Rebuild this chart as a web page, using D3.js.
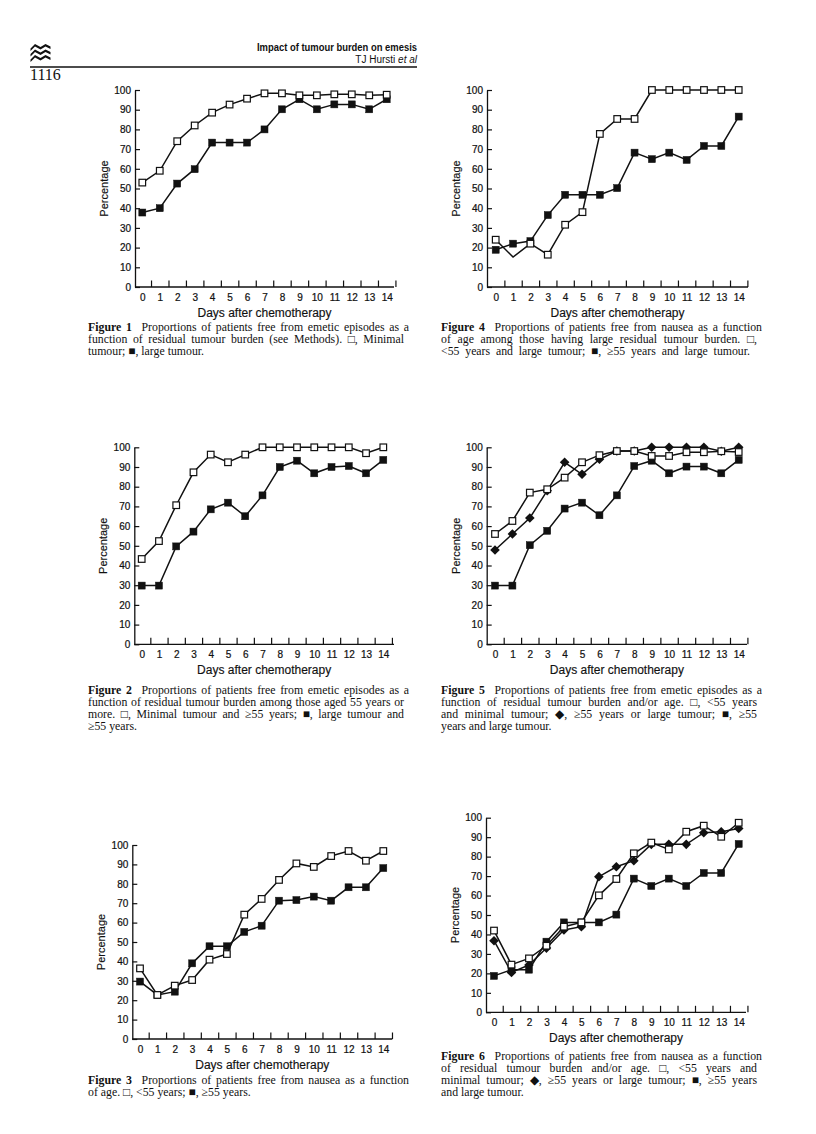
<!DOCTYPE html>
<html><head><meta charset="utf-8">
<script src="https://cdn.jsdelivr.net/npm/d3@7"></script>
<style>body{margin:0;background:#fff} svg{display:block}</style>
</head><body>
<svg id="page" width="816" height="1134"></svg>
<script>
// ---------------- DATA ----------------
const days = [0,1,2,3,4,5,6,7,8,9,10,11,12,13,14];
const yTickValues = [0,10,20,30,40,50,60,70,80,90,100];
const xAxisTitle = "Days after chemotherapy";
const yAxisTitle = "Percentage";

// Figure 1
const fig1Minimal = [53,59,74,82,88.5,92.6,95.6,98.3,98.3,97.3,97.3,97.8,97.8,97.3,97.6];
const fig1Large   = [37.8,40,52.5,59.8,73.3,73.3,73.3,80,90.2,95.3,90.2,92.7,92.7,90.2,95.3];
// Figure 2
const fig2Minimal = [43.3,52.4,70.6,87.3,96.3,92.4,96.3,100,100,100,100,100,100,97,100];
const fig2Large   = [29.8,29.8,49.7,57.2,68.5,71.9,65,75.6,90,93.2,86.8,90,90.5,86.8,93.6];
// Figure 3
const fig3Under55 = [36.4,22.7,27.5,30.4,40.9,43.8,64.1,72.2,82,90.5,88.7,94.3,96.9,91.9,96.9];
const fig3Over55  = [29.6,22.7,24.4,39,47.8,47.8,55.2,58.4,71.3,71.6,73.4,71.3,78.2,78.2,88.1];
// Figure 4
const fig4Under55 = [24,15.2,22,16.4,31.6,38,77.7,85.3,85.3,100,100,100,100,100,100];
const fig4Under55HiddenMarkers = [1];
const fig4Over55  = [18.9,22,23.3,36.5,46.8,46.8,46.8,50.2,68.2,64.9,68.2,64.5,71.6,71.6,86.5];
// Figure 5
const fig5Under55Minimal = [56,62.6,77,78.7,84.6,92.4,96,98.1,98.1,95.6,95.6,97.5,97.5,98,97.6];
const fig5Over55OrLarge  = [47.9,56,64.1,78,92.4,86.3,93.9,98.1,98.1,100,100,100,100,98,100];
const fig5Over55AndLarge = [29.8,29.8,50.3,57.6,68.9,71.9,65.5,75.6,90.5,93.2,86.8,90.2,90.2,86.8,93.6];
// Figure 6
const fig6Under55Minimal = [42,24.5,27.7,34.2,44,46.2,60.1,68.5,81.7,87.2,83.7,92.8,95.9,90.2,97.4];
const fig6Over55OrLarge  = [36.8,20.5,24.3,33,42.3,44,69.7,74.8,77.9,86.3,86.3,86.3,92.3,92.8,94.5];
const fig6Over55AndLarge = [18.7,21.9,21.9,36.3,46.2,46.2,46.2,50.2,68.7,64.9,68.7,64.9,71.6,71.6,86.5];

// Captions: [bold lead, text, justify width (optional)]
const caption1 = [["Figure 1", "Proportions of patients free from emetic episodes as a", 316],
  ["", "function of residual tumour burden (see Methods). \u25A1, Minimal", 316],
  ["", "tumour; \u25A0, large tumour."]];
const caption2 = [["Figure 2", "Proportions of patients free from emetic episodes as a", 316],
  ["", "function of residual tumour burden among those aged 55 years or", 316],
  ["", "more. \u25A1, Minimal tumour and \u226555 years; \u25A0, large tumour and", 316],
  ["", "\u226555 years."]];
const caption3 = [["Figure 3", "Proportions of patients free from nausea as a function", 316],
  ["", "of age. \u25A1, <55 years; \u25A0, \u226555 years."]];
const caption4 = [["Figure 4", "Proportions of patients free from nausea as a function", 316],
  ["", "of age among those having large residual tumour burden. \u25A1,", 316],
  ["", "<55 years and large tumour; \u25A0, \u226555 years and large tumour.", 309]];
const caption5 = [["Figure 5", "Proportions of patients free from emetic episodes as a", 316],
  ["", "function of residual tumour burden and/or age. \u25A1, <55 years", 316],
  ["", "and minimal tumour; \u25C6, \u226555 years or large tumour; \u25A0, \u226555", 316],
  ["", "years and large tumour."]];
const caption6 = [["Figure 6", "Proportions of patients free from nausea as a function", 316],
  ["", "of residual tumour burden and/or age. \u25A1, <55 years and", 316],
  ["", "minimal tumour; \u25C6, \u226555 years or large tumour; \u25A0, \u226555 years", 316],
  ["", "and large tumour."]];

// ---------------- LAYOUT ----------------
const panels = [
  {axisX:135, yTop:90, yBot:287, d0:142.3, d14:386.7, xEnd:394,
   series:[{v:fig1Large,t:"filled"},{v:fig1Minimal,t:"open"}], cap:caption1, capX:88, capY:331},
  {axisX:134.3, yTop:447.3, yBot:644.3, d0:141.7, d14:383.3, xEnd:394,
   series:[{v:fig2Large,t:"filled"},{v:fig2Minimal,t:"open"}], cap:caption2, capX:88, capY:694},
  {axisX:132.3, yTop:845, yBot:1039, d0:140, d14:383.3, xEnd:392.3,
   series:[{v:fig3Over55,t:"filled"},{v:fig3Under55,t:"open"}], cap:caption3, capX:88, capY:1084},
  {axisX:487, yTop:90, yBot:287, d0:495.7, d14:738.7, xEnd:748,
   series:[{v:fig4Over55,t:"filled"},{v:fig4Under55,t:"open",hide:fig4Under55HiddenMarkers}], cap:caption4, capX:441, capY:331},
  {axisX:486.7, yTop:447.3, yBot:644.3, d0:495, d14:738.7, xEnd:747,
   series:[{v:fig5Over55AndLarge,t:"filled"},{v:fig5Under55Minimal,t:"open"},{v:fig5Over55OrLarge,t:"diamond"}], cap:caption5, capX:441, capY:694},
  {axisX:486, yTop:817.7, yBot:1012.3, d0:494, d14:738.7, xEnd:746,
   series:[{v:fig6Over55AndLarge,t:"filled"},{v:fig6Under55Minimal,t:"open"},{v:fig6Over55OrLarge,t:"diamond"}], cap:caption6, capX:441, capY:1060}
];

const svg = d3.select("#page");
const ink = "#111";
const sans = "'Liberation Sans', Arial, Helvetica, sans-serif";
const serif = "'Liberation Serif', 'Times New Roman', serif";

// ---------------- HEADER ----------------
const logo = svg.append("g").attr("fill", ink);
[44, 49.5, 55].forEach(y0 => {
  logo.append("path").attr("d",
    `M30.5,${y0+4.5} L35,${y0} L40.5,${y0+3} L45.5,${y0} L50.5,${y0+2.5} L50.5,${y0+5} L45.5,${y0+2.6} L40.5,${y0+5.6} L35,${y0+2.6} L30.5,${y0+7} Z`);
});
svg.append("text").attr("x",417).attr("y",50.5).attr("text-anchor","end")
  .attr("font-family",sans).attr("font-weight","bold").attr("font-size",10.5)
  .attr("textLength",160).attr("lengthAdjust","spacingAndGlyphs").attr("fill",ink)
  .text("Impact of tumour burden on emesis");
const au = svg.append("text").attr("x",417).attr("y",63).attr("text-anchor","end")
  .attr("font-family",sans).attr("font-size",10).attr("fill",ink);
au.append("tspan").text("TJ Hursti ");
au.append("tspan").attr("font-style","italic").text("et al");
svg.append("line").attr("x1",30).attr("x2",417).attr("y1",67).attr("y2",67)
  .attr("stroke",ink).attr("stroke-width",1.3);
svg.append("text").attr("x",30).attr("y",80).attr("font-family",serif)
  .attr("font-size",16).attr("fill",ink).text("1116");

// ---------------- PANELS ----------------
panels.forEach(p => {
  const g = svg.append("g");
  const x = d3.scaleLinear().domain([0,14]).range([p.d0, p.d14]);
  const y = d3.scaleLinear().domain([0,100]).range([p.yBot, p.yTop]);

  // x axis labels
  const xl = g.append("g").attr("transform",`translate(0,${p.yBot})`)
    .call(d3.axisBottom(x).tickValues(days).tickSize(0).tickPadding(7).tickFormat(d3.format("d")));
  xl.select(".domain").remove();
  xl.selectAll("text").attr("font-family",sans).attr("font-size",10).attr("fill",ink)
    .attr("stroke",ink).attr("stroke-width",0.22);
  // x axis inward ticks at half days
  const xt = g.append("g").attr("transform",`translate(0,${p.yBot})`)
    .call(d3.axisBottom(x).tickValues(days.map(d => d + 0.5)).tickSize(-6.5).tickFormat(""));
  xt.select(".domain").remove();
  xt.selectAll("line").attr("stroke",ink).attr("stroke-width",1.2);
  g.append("line").attr("x1",p.axisX).attr("x2",p.xEnd).attr("y1",p.yBot).attr("y2",p.yBot)
    .attr("stroke",ink).attr("stroke-width",1.3);

  // y axis
  const ya = g.append("g").attr("transform",`translate(${p.axisX},0)`)
    .call(d3.axisLeft(y).tickValues(yTickValues).tickSize(-5).tickSizeOuter(0).tickPadding(4));
  ya.select(".domain").attr("stroke",ink).attr("stroke-width",1.3);
  ya.selectAll("line").attr("stroke",ink).attr("stroke-width",1.2);
  ya.selectAll("text").attr("font-family",sans).attr("font-size",10).attr("fill",ink)
    .attr("stroke",ink).attr("stroke-width",0.22);

  // titles
  g.append("text").attr("x",(p.axisX + p.xEnd)/2).attr("y",p.yBot + 30)
    .attr("text-anchor","middle").attr("font-family",sans).attr("font-size",12).attr("fill",ink)
    .attr("stroke",ink).attr("stroke-width",0.15)
    .text(xAxisTitle);
  g.append("text").attr("transform",`translate(${p.axisX - 27},${(p.yTop + p.yBot)/2}) rotate(-90)`)
    .attr("text-anchor","middle").attr("font-family",sans).attr("font-size",11).attr("fill",ink)
    .attr("stroke",ink).attr("stroke-width",0.15)
    .text(yAxisTitle);

  // lines
  const line = d3.line().x((d,i) => x(days[i])).y(d => y(d));
  p.series.forEach(s => {
    g.append("path").datum(s.v).attr("d",line).attr("fill","none")
      .attr("stroke",ink).attr("stroke-width",1.5).attr("stroke-linejoin","miter");
  });
  // markers
  const order = ["filled","diamond","open"];
  order.forEach(type => {
    p.series.filter(s => s.t === type).forEach(s => {
      const pts = s.v.map((v,i) => ({d:days[i], v})).filter(o => !(s.hide || []).includes(o.d));
      if (type === "diamond") {
        g.selectAll(null).data(pts).enter().append("path")
          .attr("d", o => { const cx = x(o.d), cy = y(o.v), r = 4.8;
            return `M${cx},${cy-r} L${cx+r},${cy} L${cx},${cy+r} L${cx-r},${cy} Z`; })
          .attr("fill",ink);
      } else {
        const sz = type === "open" ? 6.6 : 7;
        g.selectAll(null).data(pts).enter().append("rect")
          .attr("x", o => x(o.d) - sz/2).attr("y", o => y(o.v) - sz/2)
          .attr("width", sz).attr("height", sz)
          .attr("fill", type === "open" ? "#fff" : ink)
          .attr("stroke", ink).attr("stroke-width", type === "open" ? 1.2 : 0.5);
      }
    });
  });

  // caption
  const lh = 12;
  p.cap.forEach((ln, i) => {
    const t = g.append("text").attr("x",p.capX).attr("y",p.capY + i*lh)
      .attr("font-family",serif).attr("font-size",11.8).attr("fill",ink)
      .attr("xml:space","preserve");
    if (ln[0]) {
      t.append("tspan").attr("font-weight","bold").text(ln[0]);
      t.append("tspan").attr("dx",5).text(" " + ln[1]);
    } else {
      t.append("tspan").text(ln[1]);
    }
    if (ln[2]) {
      const natural = t.node().getComputedTextLength();
      const spaces = (ln[1].match(/ /g) || []).length + (ln[0] ? (ln[0].match(/ /g)||[]).length + 1 : 0);
      if (spaces > 0) t.attr("word-spacing", (ln[2] - natural) / spaces);
    }
  });
});
</script>
</body></html>
